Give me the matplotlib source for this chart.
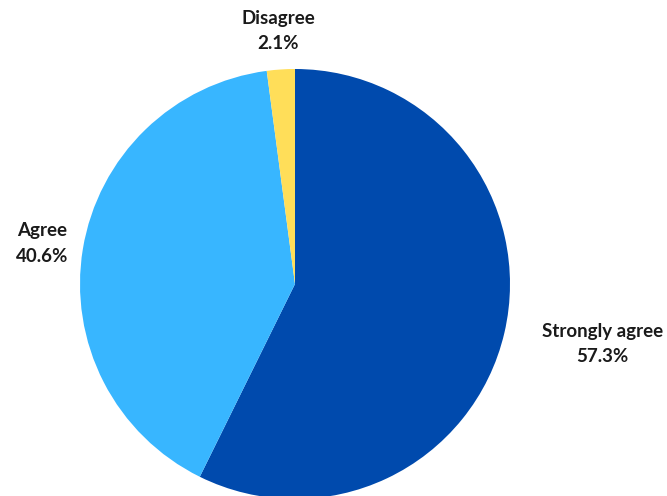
import numpy as np
import matplotlib
matplotlib.use("Agg")
import matplotlib.pyplot as plt

labels = ["Strongly agree", "Agree", "Disagree"]
shares = [57.3, 40.6, 2.1]
colors = ["#004AAD", "#38B6FF", "#FFDE59"]

# label placement: distance from centre (in radii) and vertical nudge (px)
label_dist = [1.47, 1.19, 1.18]
label_dy = [12, -1, 0]

W, H = 667, 496
fig = plt.figure(figsize=(W / 100, H / 100), dpi=100)
ax = fig.add_axes([0, 0, 1, 1])

cx, cy, r = 295, H - 284, 215
wedges, _ = ax.pie(shares, colors=colors, startangle=90, counterclock=False,
                   center=(cx, cy), radius=r,
                   wedgeprops=dict(linewidth=0))

for w, lab, val, d, dy in zip(wedges, labels, shares, label_dist, label_dy):
    mid = np.deg2rad((w.theta1 + w.theta2) / 2)
    x = cx + d * r * np.cos(mid)
    y = cy + d * r * np.sin(mid) + dy
    ax.text(x, y, f"{lab}\n{val:.1f}%", ha="center", va="center",
            fontsize=13.5, fontweight="bold", family=["Lato", "DejaVu Sans"],
            color="#1a1a1a", linespacing=1.6)

ax.set_xlim(0, W)
ax.set_ylim(0, H)
ax.set_aspect("equal")
ax.axis("off")

fig.savefig("out.png", dpi=100, facecolor="white")
